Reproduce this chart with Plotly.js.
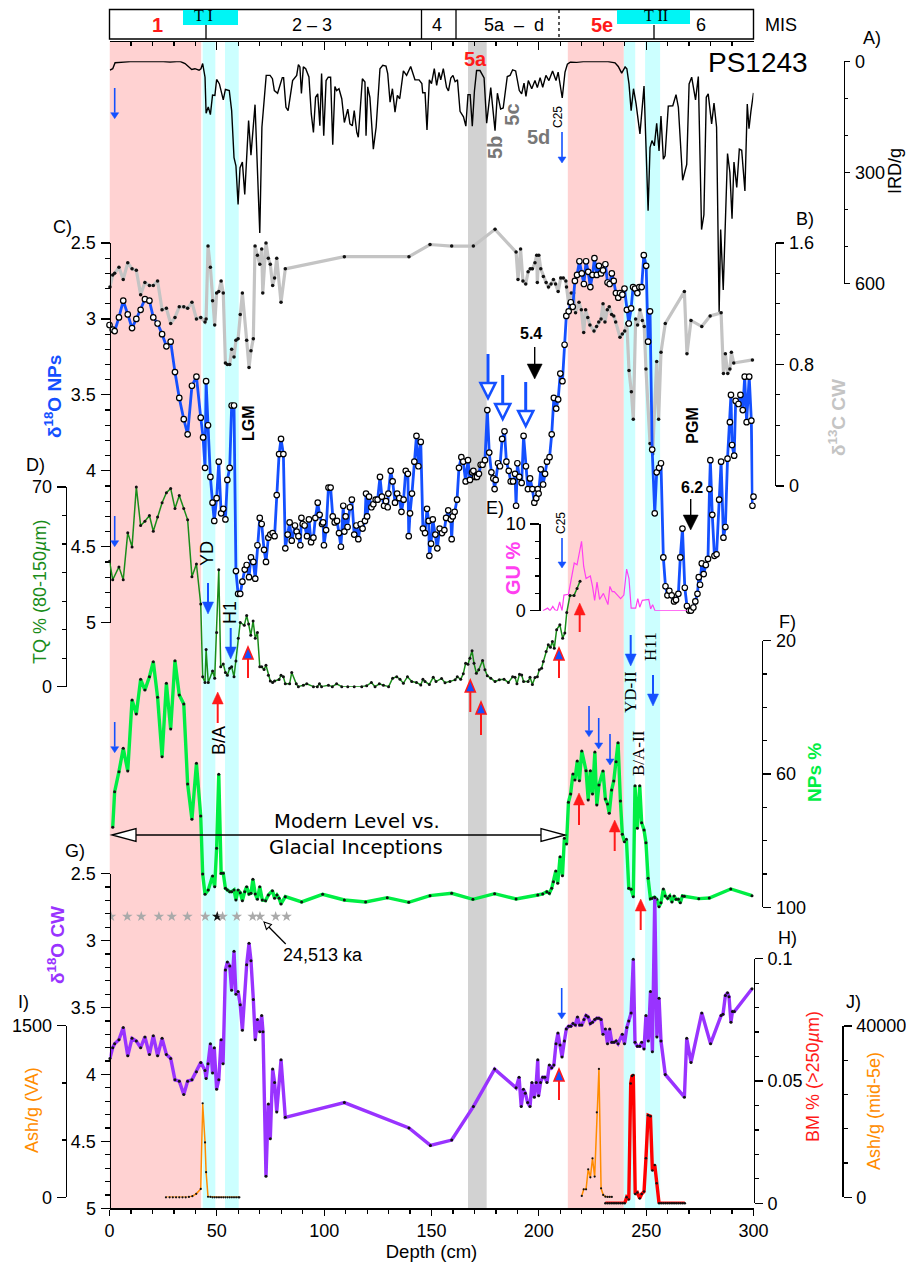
<!DOCTYPE html>
<html><head><meta charset="utf-8">
<script src="https://cdn.plot.ly/plotly-3.0.1.min.js"></script>
<style>html,body{margin:0;padding:0;background:#fff}</style></head>
<body><div id="chart" style="width:906px;height:1263px"></div>
<script>
// ---------- data: [depth cm, value] ----------
const irdPerGram=[[0.2,24],[1.5,20],[2.6,4],[5.7,2],[11.1,0],[17.3,1],[23.5,0],[28.2,2],[32.8,0],[35.2,6],[38.3,22],[39.8,20],[41.7,24],[42.6,20],[43.4,6],[44.5,43],[45,140],[46,123],[47,144],[48,91],[49.1,92],[49.9,49],[51.2,61],[53,104],[54,76],[55.8,79],[56.9,133],[58,260],[58.9,282],[59.9,386],[60.8,287],[61.9,272],[63,359],[64.8,160],[65.9,253],[67.8,117],[70,463],[71,178],[73,38],[74.8,38],[75.9,47],[76.8,79],[78.3,86],[80.5,44],[81.1,44],[82.2,124],[83.2,133],[85.3,52],[87.2,38],[88,9],[88.7,15],[89.4,87],[90.3,15],[91.4,20],[92.9,42],[94,142],[95,192],[96,97],[97,88],[98,174],[98.8,33],[99.8,201],[100.9,52],[101.9,43],[103,43],[104,225],[105,68],[105.8,79],[106.9,74],[108.2,101],[109.4,165],[111,129],[112,169],[113.1,174],[114,133],[115.2,192],[115.9,205],[117.8,47],[119,56],[119.5,201],[120.3,69],[121.3,97],[122.9,237],[124.2,178],[126,20],[127.3,11],[128.8,13],[129.6,33],[130.7,110],[131.8,74],[133,137],[134.1,92],[135.2,101],[136.9,26],[138.4,38],[140.3,14],[141.2,30],[142.3,50],[144.2,50],[145.5,60],[145.9,85],[147,85],[147.9,185],[149,50],[150,60],[151.3,20],[152.4,65],[153.5,30],[154.3,50],[155.5,20],[157,70],[157.9,80],[159,45],[160,38],[161,55],[162.1,50],[163.3,135],[164.9,150],[166,175],[167,90],[168,90],[169,175],[170,80],[171,25],[172.6,25],[174.5,45],[175.7,167],[177.6,71],[179.6,187],[180.7,86],[182.2,129],[183.4,126],[185.3,41],[186.6,38],[187.8,23],[189.2,26],[190.9,79],[192,88],[193.1,59],[194,95],[195.1,52],[196.7,74],[198.2,52],[199.3,71],[200.6,44],[201.8,70],[203.3,38],[204.7,52],[206.4,26],[208,52],[209,29],[210.9,99],[212.2,29],[213.3,8],[214.8,2],[217.6,3],[220.7,1],[225.4,0],[231.6,0],[235.5,4],[237,14],[238.6,32],[240.2,15],[241,20],[242,61],[243,133],[244.1,74],[245.3,115],[247.1,196],[249,67],[250.9,403],[251.8,233],[252.7,214],[253.8,228],[254.9,167],[256,242],[256.9,148],[258,264],[258.8,255],[260.3,121],[262.4,120],[263.9,90],[265,124],[267,321],[268.9,278],[270,61],[271.2,43],[273,104],[274.3,41],[275.8,454],[276.9,414],[278,97],[278.9,88],[280.5,169],[281.6,113],[282.8,178],[284,676],[284.7,454],[285.9,617],[287.9,249],[289,300],[290,425],[290.9,272],[292.2,340],[293.4,237],[294.5,240],[296,350],[297.1,115],[297.9,182],[298.8,135],[300,85]];

const d13cCW=[[0.2,1.31],[1.5,1.39],[2.4,1.4],[4.4,1.44],[6.4,1.36],[8.5,1.47],[10.5,1.43],[12.5,1.42],[14.5,1.26],[16.5,1.34],[18.6,1.32],[20.4,1.32],[22.4,1.35],[24.5,1.16],[26.5,1.17],[28.5,1.07],[30.5,1.11],[32.5,1.18],[34.6,1.18],[36.4,1.17],[38.4,1.21],[40.5,1.1],[42.5,1.11],[44.5,1.08],[45,1.1],[45.9,1.58],[47,1.44],[48,1.22],[49,1.06],[49.9,1.27],[50.9,1.28],[52,1.35],[53,1.27],[54,0.81],[54.9,0.8],[56,0.8],[56.9,0.9],[58,0.85],[58.9,0.96],[59.9,0.97],[60.9,1.13],[61.9,1.27],[63.9,0.96],[65,0.78],[65.9,0.89],[67,0.97],[67.8,1.58],[68.9,1.52],[70,1.46],[70.9,1.56],[71.4,1.27],[72.9,1.6],[74,1.5],[74.9,1.46],[76,1.32],[76.9,1.37],[77.9,1.5],[79.9,1.21],[81.9,1.43],[109.4,1.51],[139.5,1.51],[149.3,1.59],[159.4,1.58],[169.5,1.58],[179.6,1.69],[189.4,1.54],[190.3,1.36],[191.5,1.56],[192.6,1.35],[193.9,1.33],[195,1.41],[196,1.43],[197,1.43],[198.2,1.47],[199,1.52],[199.3,1.34],[200,1.52],[200.9,1.43],[202.1,1.38],[203.4,1.34],[204.5,1.31],[205.7,1.33],[206.8,1.36],[207.8,1.33],[209,1.28],[210.2,1.37],[211.4,1.37],[212.6,1.35],[212.9,1.31],[213.9,1.2],[215.1,1.27],[216.2,1.27],[217.1,1.14],[218.7,1.21],[219.8,1.16],[220.9,1.01],[221.8,1.16],[222.8,1.11],[223.8,1.06],[225.7,1.02],[226.9,1.05],[227.9,1.08],[229,1.1],[229.9,1.2],[230.8,1.08],[231.9,1.16],[232.8,1.18],[233.9,1.13],[234.9,1.12],[235.8,1.08],[237.8,0.98],[238.9,1],[240,1.02],[241,1.07],[242,0.76],[243.1,0.62],[244,0.44],[245.1,1.1],[246,1.06],[247.1,1.16],[248.2,1.09],[249.1,1.05],[249.9,0.77],[251.8,0.28],[253,0.21],[254.9,0.82],[255.8,0.44],[256.9,0.88],[258.9,1.07],[267.8,1.28],[269,0.87],[270.9,1.09],[275.9,1.05],[279.8,1.12],[284.9,1.14],[286,0.74],[286.9,0.87],[288,0.74],[289,0.77],[289.7,0.88],[290.8,0.81],[299.5,0.83]];

const d18oNPs=[[0,3.04],[1.5,3.07],[2.4,3.08],[4.4,2.99],[6.4,2.88],[8.5,2.97],[10.5,3.06],[12.5,3],[14.5,2.94],[16.5,2.87],[18.6,2.88],[20.4,2.99],[22.4,3.03],[24.5,3.1],[26.5,3.18],[28.5,3.15],[30.5,3.35],[32.5,3.52],[34.6,3.66],[36.4,3.76],[38.4,3.44],[40.5,3.38],[42.5,3.65],[43.6,3.78],[44.5,3.98],[45,3.41],[45.9,3.7],[47,4.04],[48,4.21],[48.8,4.33],[49.9,4.18],[50.9,3.94],[52,4.28],[53,4.25],[54,4.32],[54.9,4.06],[56,3.98],[56.9,3.57],[58,3.57],[58.9,4.66],[59.9,4.81],[60.9,4.81],[61.9,4.73],[63,4.65],[63.9,4.62],[65,4.7],[65.9,4.57],[67,4.6],[67.9,4.71],[68.9,4.49],[70,4.31],[70.9,4.35],[72,4.52],[72.9,4.6],[74,4.44],[74.9,4.42],[76,4.41],[76.9,4.43],[77.9,4.16],[79,3.89],[79.9,3.79],[81,3.89],[81.9,4.51],[83,4.42],[83.9,4.34],[84.9,4.46],[86.4,4.36],[87.2,4.4],[88,4.43],[88.9,4.49],[89.4,4.31],[90,4.35],[90.9,4.36],[92,4.43],[92.9,4.32],[93.9,4.47],[95,4.44],[95.9,4.31],[97,4.21],[97.9,4.29],[99,4.35],[99.5,4.34],[99.9,4.49],[100.9,4.39],[102,4.11],[103,4.11],[104,4.3],[104.9,4.34],[106,4.33],[106.9,4.41],[107.8,4.5],[108.9,4.23],[109.4,4.4],[110,4.3],[110.9,4.37],[112,4.24],[112.9,4.19],[114,4.42],[115,4.36],[115.9,4.45],[117,4.35],[117.9,4.38],[119,4.33],[119.5,4.15],[120,4.3],[120.9,4.17],[122,4.24],[122.9,4.22],[124,4.19],[124.9,4.19],[126,4.04],[126.9,4.17],[127.9,4.23],[128.8,4.2],[129.6,4.24],[129.9,4.15],[131,4],[131.9,4.07],[133,4.21],[134,4.15],[135,4.18],[136,4.27],[137,4.19],[138,4],[139,4.02],[139.4,4.43],[140,4.28],[140.9,4.15],[142,3.94],[143,3.77],[143.9,3.97],[145,3.81],[146,4.38],[147,4.41],[147.9,4.25],[148.7,4.33],[149,4.56],[149.8,4.48],[150.6,4.32],[151.8,4.42],[152.7,4.51],[153.8,4.38],[154.9,4.41],[156,4.39],[156.8,4.31],[157.8,4.26],[159,4.32],[159.4,4.45],[159.9,4.3],[160.8,4.27],[161.9,4.19],[162.8,3.98],[163.9,3.91],[164.8,3.94],[165.9,4.07],[167,3.93],[167.9,4.06],[168.9,4.01],[169.5,4],[170.4,4.04],[171.2,4.04],[172.1,4.02],[172.9,3.96],[173.8,3.96],[174.9,3.93],[176,3.6],[176.9,3.88],[177.9,4.01],[178.8,4.05],[179.4,4.12],[179.9,4.06],[181,3.95],[181.9,3.97],[182.9,3.79],[184,3.74],[184.9,3.94],[186,4],[186.9,4.07],[188,4.07],[188.9,4.02],[189.4,4.23],[190,3.95],[190.9,4.04],[192,4.08],[192.9,3.77],[194,3.97],[194.9,4.12],[195.9,4.05],[197,4.12],[197.9,4.21],[198.8,4.18],[199.5,4.12],[199.9,4.15],[200.9,3.99],[202,4.09],[202.9,4.02],[203.8,3.94],[205,3.91],[206,3.76],[207,3.52],[208.1,3.59],[209,3.53],[210,3.36],[211,3.41],[212,3.17],[212.8,2.98],[213.9,2.95],[214.9,2.89],[215.8,2.92],[216.8,2.75],[217.8,2.71],[218.9,2.62],[220,2.7],[221,2.77],[222,2.62],[223,2.69],[224,2.79],[225,2.71],[225.9,2.6],[227,2.71],[228,2.65],[229,2.7],[229.9,2.68],[231,2.64],[232,2.76],[233,2.77],[234,2.7],[234.9,2.75],[235.9,2.83],[237,2.86],[237.8,2.83],[238.9,2.84],[239.9,2.8],[241,2.94],[241.9,3.03],[243,2.93],[243.9,2.79],[244.8,2.8],[245.9,2.83],[246.8,2.79],[247.9,2.79],[248.9,2.58],[250,2.65],[250.9,3.15],[251.8,2.95],[252.8,3.86],[254,4.28],[254.9,4.01],[256,3.98],[256.9,3.95],[258,4.57],[259,4.76],[259.9,4.82],[260.8,4.79],[261.9,4.82],[263,4.86],[263.9,4.85],[265,4.81],[265.9,4.57],[266.9,4.38],[268,4.77],[269,4.89],[270,4.92],[270.9,4.92],[272,4.9],[272.9,4.86],[273.9,4.81],[274.5,4.7],[275.1,4.75],[275.9,4.61],[276.8,4.68],[277.8,4.62],[278.8,4.58],[279.5,4.12],[279.9,3.93],[280.8,4.29],[281.8,4.56],[282.8,4.55],[284,4.19],[284.9,3.94],[286,4.44],[286.9,4.37],[287.9,3.92],[289,3.68],[289.5,3.5],[290,3.83],[291,3.9],[291.7,3.54],[293,3.56],[293.9,3.5],[295,3.6],[295.9,3.38],[296.8,3.68],[298,3.38],[299,3.67],[299.5,4.23],[300,4.17]];

const tqPercent=[[0,44],[1.5,37.5],[4.4,42],[6.4,37.5],[8.5,54],[10.5,49],[12.5,70],[14.5,56.5],[16.5,58],[18.6,60],[20.4,54.5],[22.4,59.5],[24.5,64.5],[26.5,68],[28.5,69.5],[30.5,62.5],[32.5,67],[34.6,62.5],[36.4,58.5],[38.4,38.5],[40.5,43],[42.5,29],[43.4,3.5],[44.5,1.5],[45,13],[46,1.5],[48,5.5],[49,3],[49.9,19],[50.9,41],[51.8,7],[53,8],[54,5],[54.9,4],[56,6.5],[56.9,7],[58,3.5],[58.9,9],[60,17],[60.9,22.5],[62.8,21.5],[63.9,25],[64.8,22],[65.8,18],[66.9,23],[67.9,17],[68.9,19],[70,7],[70.9,7],[72,6],[72.9,7.5],[74,4],[74.9,2],[76,1.5],[76.9,2],[79,2.5],[79.9,4],[81,3.5],[81.9,1],[83.9,1],[84.9,5],[87,1],[88,0],[90.3,0.5],[91.9,1],[95,0],[96.8,0],[97.8,1],[98.8,0],[102,0.5],[103.8,0],[105.8,1],[108.2,0],[111,0],[114,0],[117.5,0],[119.8,0.3],[122,1.5],[123.7,0],[125.7,1],[127.6,0.5],[130,0],[131.9,3],[133.8,3.5],[135.3,2.6],[136.9,1.2],[138.8,3.5],[140.8,1.8],[143,1.5],[145,0.6],[146,2.6],[147,1.8],[149,0.8],[150.8,3.3],[152.1,1.8],[154.7,2.9],[156.3,1.4],[158.6,1.8],[161,2.4],[162,3.5],[163.6,2.6],[164.8,4.5],[165.9,8.2],[167,7.9],[167.9,10],[168.9,12.6],[169.8,8.2],[170.9,4.7],[172,5.9],[173.8,9.2],[174.9,5.9],[176,3.8],[177.6,3],[179.6,1.8],[181.6,2.4],[183.8,2.6],[185.8,1.5],[187.8,3.5],[188.9,3.3],[189.8,1],[191,4.4],[192,4.1],[192.9,1.8],[195,1.8],[195.9,3.3],[197,0.8],[198.2,3.2],[199.3,3.5],[200.2,5.9],[201.3,6.5],[202.1,8.8],[203.4,12.3],[204.4,14.7],[205.4,13.8],[206.3,15.8],[207.2,13.5],[208.3,20],[209.8,21.7],[211.1,17],[212.1,18.8],[213,26],[214.5,32],[216.4,32],[217.8,34.4],[219.2,37]];

const guPercent=[[201.9,0],[203.2,0.2],[204.1,0.3],[205.2,0],[206.5,0.5],[207.5,0.1],[208.6,0],[209.7,1],[210.8,0],[211.7,1.8],[213.8,1.9],[216.5,5.5],[217.8,5.3],[219.9,8],[220.9,5.1],[222,3.7],[224,4],[225,2.8],[226,1.2],[227.1,3.3],[228.3,1.3],[230.1,2],[232.2,0.7],[233.1,2.8],[234.2,2.2],[235.1,2.2],[236.1,1.9],[238.1,1.4],[239.6,1.8],[240.9,4.8],[242,3.7],[243,0.3],[245.1,0.3],[246.1,1.4],[247,0.4],[248.2,1.2],[251.2,1.3],[252.1,0.2],[253,0.7],[254.1,0],[269,0]];

const npsPercent=[[1.5,76],[2.4,65.3],[4.4,59.3],[6.4,52.3],[8.5,59.1],[10.5,37.8],[12.5,42],[14.5,31.6],[16.5,34.8],[18.6,30.8],[20.4,26.3],[22.4,37],[24.5,54.8],[26.5,32.8],[28.5,46.5],[30.5,26],[32.5,36.3],[34.6,39],[36.4,63],[38.4,73.6],[40.5,56.8],[42.5,72.6],[43.4,90],[44.5,96.1],[46,94.8],[48,90.6],[49,93.8],[49.9,82.3],[50.9,60.1],[52,89.8],[53,89.8],[54,94.3],[54.9,94.8],[56,95.3],[56.9,95.3],[58,94.8],[58.9,97.8],[59.9,94.8],[60.9,95.6],[61.9,98],[63,95.3],[63.9,93.8],[65,96],[65.9,95.8],[66.8,91.6],[67.9,96],[68.9,97.6],[70,93.8],[71.2,97.8],[72.7,98],[74,96.3],[75.9,95],[76.9,97.3],[78,96.3],[79,97.3],[79.9,99],[81.9,96.8],[89.5,98.4],[99.3,96.1],[109.4,97.8],[119.3,98.4],[129.4,97.1],[139.4,98.5],[149.3,96.5],[159.4,95.8],[169.3,97.6],[179.4,95.9],[189.4,97.5],[199.5,96.3],[201.8,96],[203.7,95.3],[204.9,95.8],[206,94.3],[206.8,92.3],[207.9,89.1],[208.8,92.8],[209.9,84.8],[211,90.5],[211.9,79.3],[212.9,81],[213.8,68.5],[214.8,66],[215.9,60],[216.8,61.8],[217.9,56.1],[218.9,62],[220,53.1],[222,59],[223,67.8],[224,59],[225,66],[226.1,53.4],[227,69.3],[228,63.3],[229.9,59.1],[231,67.5],[232,69],[232.8,71.8],[233.9,64.8],[234.9,62.1],[236,56.3],[236.9,50.6],[238,68.1],[238.9,78.1],[239.9,80.3],[240.8,79.6],[241.9,94.3],[243,94.6],[244,96.8],[244.8,63.5],[245.9,76.3],[247,63.5],[247.9,74.6],[249,76.8],[249.9,80.6],[250.9,91.3],[252,97.4],[253,97.3],[253.9,97],[254.9,97.6],[256,99.8],[256.9,98.6],[258,94.5],[258.9,96.6],[260,97.3],[261,96.6],[262,98.4],[263,96.6],[263.9,97.6],[265,97.6],[265.9,98.6],[266.9,96.6],[267.8,96.7],[274.5,97.4],[279.4,97.2],[289.4,94.5],[299.3,96.5]];

const d18oCW=[[0.2,3.88],[1.5,3.8],[2.4,3.77],[4.4,3.74],[6.4,3.65],[8.5,3.86],[10.5,3.73],[12.5,3.75],[14.5,3.8],[16.5,3.72],[18.6,3.85],[20.4,3.71],[22.4,3.86],[24.5,3.73],[26.5,3.85],[28.5,3.88],[30.5,4.04],[32.5,4.05],[34.6,4.15],[36.4,4.05],[38.4,4.04],[40.5,3.98],[42.5,3.91],[44.5,3.97],[45,4.03],[45.9,3.92],[47,3.77],[48,3.99],[48.8,3.8],[49.9,4.11],[50.9,4.04],[52,3.74],[52.9,3.92],[54,3.22],[54.9,3.16],[56,3.19],[56.9,3.37],[58,3.08],[58.9,3.4],[59.9,3.38],[60.9,3.48],[61.9,3.67],[63.9,3.18],[65,3.02],[65.9,3.15],[67,3.44],[67.9,3.74],[68.9,3.59],[70,3.68],[70.9,3.56],[71.5,3.68],[72.9,4.76],[74,4.22],[74.9,4.48],[76,3.96],[76.9,4.06],[77.9,4.28],[79.9,3.89],[81.9,4.32],[109.4,4.21],[139.5,4.4],[149.5,4.53],[159.4,4.49],[169.5,4.24],[179.4,3.96],[189.4,4.1],[190.8,4.02],[191.8,4.24],[192.8,4.11],[193.7,4.14],[194.8,4.21],[195.9,4.24],[196.8,4.06],[197.9,4.17],[198.8,4.06],[199.5,3.89],[199.9,4.16],[200.8,4.06],[201.8,4.02],[202.8,4.02],[203.8,4.06],[204.9,3.93],[206,3.95],[207,3.93],[208,3.77],[208.9,3.69],[209.9,3.78],[210.8,3.87],[211.9,3.75],[212.8,3.66],[213.9,3.64],[214.9,3.64],[215.9,3.62],[217,3.63],[218,3.57],[219,3.63],[220,3.63],[221,3.59],[222,3.56],[223,3.57],[224,3.62],[225,3.61],[226,3.59],[227,3.58],[228,3.58],[229,3.59],[229.9,3.7],[231,3.66],[232,3.77],[233,3.66],[234,3.76],[235,3.76],[236,3.75],[236.9,3.77],[238.9,3.7],[239.9,3.77],[241,3.65],[241.9,3.6],[243,3.54],[244,3.14],[244.8,3.76],[245.9,3.79],[247,3.79],[247.9,3.76],[249,3.81],[249.9,3.56],[251,3.75],[252,3.38],[252.9,3.83],[254,2.68],[255,3.72],[256,3.43],[256.9,3.75],[258.9,4],[267.8,4.17],[268.9,3.73],[270.9,3.91],[275.9,3.54],[280,3.77],[284.9,3.56],[285.8,3.55],[286.9,3.41],[287.9,3.39],[288.6,3.42],[289.5,3.61],[290.2,3.53],[291.1,3.53],[299.3,3.36]];

const bmPercent=[[231,0],[232,0],[233,0],[234,0],[235,0],[236,0],[237,0],[238,0],[239,0],[240,0],[240.9,0.0025],[241.9,0.0016],[242.8,0.049],[243.4,0.052],[244,0.0525],[244.9,0.0038],[245.9,0.0044],[247,0.002],[247.9,0.0038],[249,0.0048],[249.9,0.0184],[250.9,0.036],[252,0.0356],[252.9,0.0134],[254,0.0157],[254.9,0.0082],[256,0],[257,0],[258,0],[259,0],[260,0],[261,0],[262,0],[263,0],[264,0],[265,0],[266,0],[267,0],[268,0]];

const ashVA=[[26.3,0],[28,0],[29.5,0],[31,0],[32.5,0],[34,0],[35.5,0],[37,3],[38.6,10],[40.4,30],[42.5,73],[43.4,822],[44.5,480],[45,220],[45.9,5],[47,3],[48,0],[49,0],[50,0],[51,0],[52,0],[53,0],[54,0],[55,0],[56,0],[57,0],[58,0],[59,0],[60,0],[60.5,0]];

const ashMid5e=[[220,311],[220.9,1870],[222,1870],[223,6540],[224,4670],[225,9110],[226,4830],[227,19850],[228,29970],[229,2100],[230,545],[231,156],[232,78],[233,78],[234,78]];

const datedDepths=[0.7,8.3,14.8,23,29,36.3,44.6,50.2,52.7,59.3,66.7,70.1,77.4,82.5];
const datedLevel=[2.82,2.82,2.82,2.82,2.82,2.82,2.82,2.82,2.82,2.82,2.82,2.82,2.82,2.82];
const datedColors=['#aaa','#aaa','#aaa','#aaa','#aaa','#aaa','#aaa','#111','#aaa','#aaa','#aaa','#aaa','#aaa','#aaa'];

// interval bands in depth
const interglacialBands=[[0,42.7],[213.5,239.6]];
const deglacialBands=[[43.4,49.3],[53.8,60.2],[239.6,244.9],[249.5,256.5]];
const greyBands=[[167,175.7]];

// tick lists
const irdTicks=[0,300,600], irdLabels=['0','300','600'], irdMinor=[100,200,400,500];
const d13cTicks=[0,0.8,1.6], d13cLabels=['0','0.8','1.6'], d13cMinor=[0.2,0.4,0.6,1,1.2,1.4];
const npTicks=[2.5,3,3.5,4,4.5,5], npLabels=['2.5','3','3.5','4','4.5','5'], npMinor=[2.6,2.7,2.8,2.9,3.1,3.2,3.3,3.4,3.6,3.7,3.8,3.9,4.1,4.2,4.3,4.4,4.6,4.7,4.8,4.9];
const tqTicks=[0,70], tqLabels=['0','70'], tqMinor=[10,20,30,40,50,60];
const guTicks=[0,10], guLabels=['0','10'], guMinor=[2,4,6,8];
const npsTicks=[20,60,100], npsLabels=['20','60','100'], npsMinor=[30,40,50,70,80,90];
const bmTicks=[0,0.05,0.1], bmLabels=['0','0.05','0.1'], bmMinor=[0.01,0.02,0.03,0.04,0.06,0.07,0.08,0.09];
const vaTicks=[0,1500], vaLabels=['0','1500'], vaMinor=[500,1000];
const midTicks=[0,40000], midLabels=['0','40000'], midMinor=[8000,16000,24000,32000];

// ---------- layout helpers ----------
const W=906,H=1263,X0=109.5,X1=753.5,FF='"Liberation Sans", Arial, sans-serif',SERIF='"Liberation Serif", serif',DJ='"DejaVu Sans", sans-serif';
const px=x=>x/W, py=y=>1-y/H;
const BLUE='#1450ff',RED='#ff1a1a',GREEN='#1a8c1a',GREY='#c4c4c4';

function yAxis(top,bot,range,pos,side,vals,labels,minor,majLen,minLen){
  return {domain:[py(bot),py(top)],range:range,anchor:'free',position:px(pos),side:side,
    tickmode:'array',tickvals:vals,ticktext:labels,ticks:'outside',ticklen:majLen,tickwidth:1.2,tickcolor:'#000',
    minor:{tickmode:'array',tickvals:minor,ticks:'outside',ticklen:minLen,tickwidth:1.2,tickcolor:'#000',showgrid:false},
    showline:true,linewidth:1.3,linecolor:'#000',showgrid:false,zeroline:false,
    tickfont:{family:FF,size:18,color:'#000'},ticklabelstandoff:1};
}
// data axis sharing a scale with a drawn axis but reaching past it, for excursions beyond the axis ends
function reachAxis(top,bot,range,pos){
  return {domain:[py(bot),py(top)],range:range,anchor:'free',position:px(pos),visible:false,showgrid:false,zeroline:false};
}
function line(s,ax,color,w,dot){
  const t={x:s.map(p=>p[0]),y:s.map(p=>p[1]),xaxis:'x',yaxis:ax,type:'scatter',mode:dot?'lines+markers':'lines',
    line:{color:color,width:w},cliponaxis:false,hoverinfo:'skip',showlegend:false};
  if(dot)t.marker=dot;
  return t;
}
const blackDot=s=>({size:s,color:'#111'});
const empty=(xa,ya)=>({x:[null],y:[null],xaxis:xa,yaxis:ya,type:'scatter',mode:'lines',showlegend:false,hoverinfo:'skip'});

const traces=[
  empty('x2','y'),
  empty('x','y11'),
  empty('x','y12'),
  line(irdPerGram,'y',"#000",1.4),
  line(d13cCW,'y2',GREY,3.2,blackDot(3.5)),
  line(d18oNPs,'y3',BLUE,2.8,{size:5.5,color:'#fff',line:{color:'#000',width:1.2}}),
  line(tqPercent,'y4',GREEN,1.5,blackDot(3)),
  line(guPercent,'y5','#ff40f0',1.2),
  line(npsPercent,'y6','#00ee44',3.4,blackDot(3)),
  {x:datedDepths,y:datedLevel,xaxis:'x',yaxis:'y7',type:'scatter',mode:'markers',marker:{symbol:'star',size:8,color:datedColors},hoverinfo:'skip',showlegend:false},
  line(d18oCW,'y7','#9933ff',3.4,blackDot(3)),
  line(bmPercent,'y8','#ff0000',3.4,blackDot(2.5)),
  line(ashVA,'y9','#ff8c00',1.5,blackDot(2.2)),
  line(ashMid5e,'y10','#ff8c00',1.5,blackDot(2.2))
];

// ---------- shapes ----------
const shapes=[];
function band(b,color){shapes.push({type:'rect',layer:'below',xref:'x',yref:'paper',x0:b[0],x1:b[1],y0:py(1208),y1:py(41),fillcolor:color,line:{width:0}});}
interglacialBands.forEach(b=>band(b,'#ffd2d2'));
deglacialBands.forEach(b=>band(b,'#ccffff'));
greyBands.forEach(b=>band(b,'#d2d2d2'));
function rect(x0,y0,x1,y1,fill,lc,lw){shapes.push({type:'rect',xref:'paper',yref:'paper',x0:px(x0),x1:px(x1),y0:py(y1),y1:py(y0),fillcolor:fill,line:{color:lc||fill,width:lw||0}});}
function seg(x0,y0,x1,y1,c,w,dash){shapes.push({type:'line',xref:'paper',yref:'paper',x0:px(x0),x1:px(x1),y0:py(y0),y1:py(y1),line:{color:c,width:w,dash:dash||'solid'}});}
// MIS strip
rect(109.5,9.5,753.5,39,'#fff','#000',1.4);
rect(183,10,238,25,'#00f5f5');
rect(617,10,690,24,'#00f5f5');
[[421.5,9.5],[456,9.5],[206,25],[654,25]].forEach(d=>seg(d[0],d[1],d[0],39,'#000',1.3));
seg(559,10,559,39,'#000',1.3,'dot');
function arrow(x0,y0,x1,y1,o){
  const L=Math.hypot(x1-x0,y1-y0),ux=(x1-x0)/L,uy=(y1-y0)/L,h=o.h,w=o.w/2;
  const bx=x1-ux*h,by=y1-uy*h;
  seg(x0,y0,bx,by,o.c,o.lw);
  const pts=[[x1,y1],[bx-uy*w,by+ux*w],[bx+uy*w,by-ux*w]];
  shapes.push({type:'path',xref:'paper',yref:'paper',
    path:'M'+pts.map(p=>px(p[0])+','+py(p[1])).join(' L')+' Z',
    fillcolor:o.f,line:{color:o.s||o.c,width:o.sw===undefined?0.5:o.sw}});
}
const smallBlue={c:BLUE,lw:1.6,h:6,w:8,f:BLUE};
const bigBlue={c:BLUE,lw:2,h:12,w:11,f:BLUE};
const hollowBlue={c:BLUE,lw:3,h:15,w:15,f:'#fff',s:BLUE,sw:2.6};
const black={c:'#000',lw:1.4,h:15,w:15,f:'#000'};
const redArrow={c:RED,lw:2,h:12,w:11,f:RED};
const redBlue={c:RED,lw:2,h:12,w:10,f:BLUE,s:RED,sw:1.6};
[[114.7,88,118.7],[562,132,163],[114.7,516,546.7],[562,538,568],[114.7,722,752.7],[589,706,736.7],[598.7,718,749],[610,734,765],[561.7,988,1019]].forEach(a=>arrow(a[0],a[1],a[0],a[2],smallBlue));
[[208,583,614],[230.7,628,659],[630.7,635,666],[653,675,706]].forEach(a=>arrow(a[0],a[1],a[0],a[2],bigBlue));
[[488,354,398],[502.7,375,419],[525.7,382,426]].forEach(a=>arrow(a[0],a[1],a[0],a[2],hollowBlue));
[[534.7,347,379],[690.7,499,530]].forEach(a=>arrow(a[0],a[1],a[0],a[2],black));
[[217.7,723,692],[579.7,632,603],[579,825,793],[614.7,851,820],[640.7,930,899]].forEach(a=>arrow(a[0],a[1],a[0],a[2],redArrow));
[[248,678,647],[559,678,648],[470.3,712,680],[481,735,702],[559,1100,1069]].forEach(a=>arrow(a[0],a[1],a[0],a[2],redBlue));
const hollowBlack={c:'#000',lw:1.3,h:24,w:13,f:'#fff',s:'#000',sw:1.3};
arrow(341,835,112,835,hollowBlack);
arrow(341,835,565,835,hollowBlack);
arrow(285.7,944,264,922,{c:'#000',lw:1.3,h:7,w:7,f:'#fff',s:'#000',sw:1.1});

// ---------- text ----------
const annotations=[];
function label(t,x,y,size,color,o){o=o||{};annotations.push({text:t,xref:'paper',yref:'paper',x:px(x),y:py(y),xanchor:'center',yanchor:'middle',showarrow:false,textangle:o.rot||0,font:{family:o.fam||FF,size:size,color:color||'#000'}});}
const V={rot:-90};
label('<b>1</b>',157,25,20,RED);
label('T I',203,16,16,'#000',{fam:SERIF});
label('2 – 3',311.7,25,18);
label('4',436.7,25,18);
label('5a  –  d',514,25,18);
label('<b>5e</b>',601.7,25,20,RED);
label('T II',655.7,15.7,16,'#000',{fam:SERIF});
label('6',700.7,25,18);
label('MIS',781,25,18);
label('PS1243',758,62,28);
label('A)',871.5,38,18);
label('IRD/g',895,171,18,'#000',V);
label('B)',805,219,18);
label('C)',62,227,18);
label('D)',35,465,18);
label('E)',495,508,18);
label('F)',787,622,18);
label('G)',75,851,18);
label('H)',787,938,18);
label('I)',23,1002,18);
label('J)',853,1002,18);
label('<b>δ<sup>18</sup>O NPs</b>',53,397,19,BLUE,V);
label('<b>δ<sup>13</sup>C CW</b>',837,418,19,GREY,V);
label('TQ % (80-150<i>µ</i>m)',40,592,18,GREEN,V);
label('<b>GU %</b>',513,568,20,'#ff40f0',V);
label('<b>NPs %</b>',814,773,19,'#00ee44',V);
label('<b>δ<sup>18</sup>O CW</b>',56,945,19,'#9933ff',V);
label('BM % (&gt;250<i>µ</i>m)',813,1077,18,RED,V);
label('Ash/g (VA)',32,1110,18,'#ff8c00',V);
label('Ash/g (mid-5e)',874,1111,18,'#ff8c00',V);
label('C25',558,117,12,'#000',V);
label('C25',561,523,12,'#000',V);
label('<b>5a</b>',475.7,59,20,RED);
label('<b>5b</b>',495,148,20,'#777',V);
label('<b>5c</b>',511.7,115,20,'#777',V);
label('<b>5d</b>',538,137,20,'#777');
label('<b>5.4</b>',530.7,333,16);
label('<b>6.2</b>',692,487,16);
label('<b>LGM</b>',248,423,16,'#000',V);
label('<b>PGM</b>',691.7,426,16,'#000',V);
label('YD',207,554,18,'#000',V);
label('H1',230,613,18,'#000',V);
label('B/A',219,741,18,'#000',V);
label('YD-II',630,692,17,'#000',{rot:-90,fam:SERIF});
label('B/A-II',638,753,17,'#000',{rot:-90,fam:SERIF});
label('H11',650,647,17,'#000',{rot:-90,fam:SERIF});
label('Modern Level vs.',356.5,821,19.6,'#000',{fam:DJ});
label('Glacial Inceptions',355.5,847,19.6,'#000',{fam:DJ});
label('24,513 ka',322.7,955,18);

const xCommon={range:[0,300],domain:[px(X0),px(X1)],showgrid:false,zeroline:false,showline:true,linewidth:1.3,linecolor:'#000',
  tickmode:'linear',tick0:0,dtick:50,tickcolor:'#000',tickwidth:1.2,
  minor:{tick0:0,dtick:10,ticklen:4,tickwidth:1.2,tickcolor:'#000',showgrid:false}};
const layout={
  width:W,height:H,autosize:false,margin:{l:0,r:0,t:0,b:0,pad:0},paper_bgcolor:'#fff',plot_bgcolor:'rgba(0,0,0,0)',
  showlegend:false,font:{family:FF,color:'#000'},
  xaxis:Object.assign({},xCommon,{anchor:'free',position:py(1208.3),side:'bottom',ticks:'outside',ticklen:6,
    minor:Object.assign({},xCommon.minor,{ticks:'outside'}),
    tickfont:{family:FF,size:18,color:'#000'},title:{text:'Depth (cm)',font:{family:FF,size:18.5,color:'#000'},standoff:4}}),
  xaxis2:Object.assign({},xCommon,{anchor:'free',position:py(40.8),side:'top',ticks:'inside',ticklen:8,showticklabels:false,
    minor:Object.assign({},xCommon.minor,{ticks:'inside'})}),
  yaxis:reachAxis(61.3,320,[697.9,0],844),
  yaxis2:reachAxis(225,486,[0,1.7185],775),
  yaxis11:yAxis(61.3,283.7,[600,0],844,'right',irdTicks,irdLabels,irdMinor,5,3),
  yaxis12:yAxis(243,486,[0,1.6],775,'right',d13cTicks,d13cLabels,d13cMinor,8,4),
  yaxis3:yAxis(243,622.7,[5,2.5],109.5,'left',npTicks,npLabels,npMinor,9,5),
  yaxis4:yAxis(487,686.7,[0,70],65.7,'left',tqTicks,tqLabels,tqMinor,9,4),
  yaxis5:yAxis(524,610.7,[0,10],539.3,'left',guTicks,guLabels,guMinor,9,4),
  yaxis6:yAxis(640.7,907.3,[100,20],762,'right',npsTicks,npsLabels,npsMinor,8,4),
  yaxis7:yAxis(873.7,1208.3,[5,2.5],109.5,'left',npTicks,npLabels,npMinor,9,5),
  yaxis8:yAxis(958.7,1203.3,[0,0.1],753.5,'right',bmTicks,bmLabels,bmMinor,8,4),
  yaxis9:yAxis(1025.7,1197.3,[0,1500],65.7,'left',vaTicks,vaLabels,vaMinor,9,4),
  yaxis10:yAxis(1026,1197.3,[0,40000],842.3,'right',midTicks,midLabels,midMinor,8,4),
  shapes:shapes,annotations:annotations
};
Plotly.newPlot('chart',traces,layout,{displayModeBar:false,staticPlot:true,responsive:false});
</script></body></html>
